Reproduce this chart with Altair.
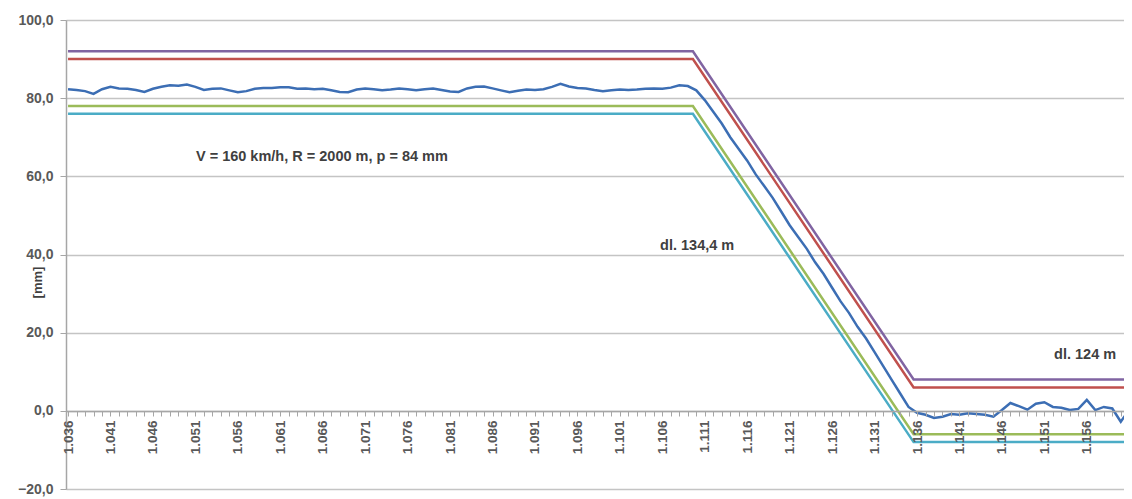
import altair as alt
import pandas as pd

# measured cant (blue), one value per chainage step
x_meas = list(range(1036, 1162))
measured = [
    82.3, 82.1, 81.8, 81.1, 82.3, 82.9, 82.5, 82.4, 82.1, 81.6,
    82.4, 82.9, 83.3, 83.2, 83.5, 82.9, 82.1, 82.4, 82.5, 82.0,
    81.5, 81.8, 82.4, 82.6, 82.6, 82.8, 82.8, 82.4, 82.5, 82.3,
    82.4, 82.0, 81.6, 81.5, 82.2, 82.5, 82.3, 82.0, 82.2, 82.5,
    82.3, 82.0, 82.3, 82.5, 82.1, 81.7, 81.6, 82.5, 82.9, 83.0,
    82.5, 82.0, 81.5, 81.9, 82.2, 82.1, 82.3, 82.9, 83.7, 83.0,
    82.6, 82.5, 82.1, 81.8, 82.0, 82.2, 82.1, 82.2, 82.4, 82.5,
    82.4, 82.7, 83.3, 83.1, 82.0, 79.5, 76.5, 73.5, 70.0, 67.0,
    64.0, 60.5, 57.5, 54.5, 51.0, 47.5, 44.5, 41.5, 38.0, 35.0,
    31.5, 28.0, 25.0, 21.5, 18.5, 15.0, 11.5, 8.0, 4.5, 1.0,
    -0.5, -1.0, -1.8, -1.5, -0.8, -1.0, -0.6, -0.8, -1.0, -1.5,
    0.2, 2.0, 1.2, 0.3, 1.8, 2.2, 1.0, 0.8, 0.2, 0.5,
    2.8, 0.2, 1.0, 0.6, -2.8, 0.3,
]

# reference / tolerance lines
ref_x = [1036, 1109.6, 1135.6, 1161]
ref_names = ["purple", "red", "green", "cyan"]
ref_purple = [92, 92, 8, 8]
ref_red = [90, 90, 6, 6]
ref_green = [78, 78, -6, -6]
ref_cyan = [76, 76, -8, -8]
ref_colors = ["#8064A2", "#C0504D", "#9BBB59", "#4BACC6"]
meas_color = "#3C6EB4"

# annotations
ann_text = ["V = 160 km/h, R = 2000 m, p = 84 mm", "dl. 134,4 m", "dl. 124 m"]
ann_x = [1065.9, 1110.1, 1155.8]
ann_y = [65.0, 42.2, 14.3]

y_ticks = [-20, 0, 20, 40, 60, 80, 100]
x_ticks = list(range(1036, 1161))

meas_df = pd.DataFrame({"x": x_meas, "y": measured})
rows = []
for name, vals in zip(ref_names, [ref_purple, ref_red, ref_green, ref_cyan]):
    for xv, yv in zip(ref_x, vals):
        rows.append({"x": xv, "y": yv, "s": name})
ref_df = pd.DataFrame(rows)
ann_df = pd.DataFrame({"x": ann_x, "y": ann_y, "t": ann_text})

FONT = "Liberation Sans"
x_scale = alt.Scale(domain=[1035.76, 1160.38], nice=False, zero=False)
y_scale = alt.Scale(domain=[-20, 100], nice=False)

x_axis = alt.Axis(
    values=x_ticks,
    tickCount=200,
    labelExpr="(datum.value - 1036) % 5 == 0 ? replace(format(datum.value, ','), ',', '.') : ''",
    labelAngle=270,
    offset=-78,
    grid=False,
    domainColor="#A6A6A6",
    domainWidth=1.5,
    tickColor="#A6A6A6",
    tickSize=5,
    labelFont=FONT,
    labelFontSize=13.5,
    labelFontWeight="bold",
    labelColor="#595959",
    labelPadding=4,
    labelOverlap=False,
    labelFlush=False,
    labelBound=False,
    title=None,
    zindex=1,
)
y_axis = alt.Axis(
    values=y_ticks,
    labelExpr="replace(format(datum.value, '.1f'), '.', ',')",
    grid=True,
    gridColor="#C4C4C4",
    gridWidth=1.5,
    domainColor="#A6A6A6",
    domainWidth=1.5,
    tickColor="#A6A6A6",
    tickSize=6,
    labelFont=FONT,
    labelFontSize=14,
    labelFontWeight="bold",
    labelColor="#595959",
    labelPadding=7,
    title="[mm]",
    titleFont=FONT,
    titleFontSize=13,
    titleFontWeight="bold",
    titleColor="#404040",
    titleX=-29,
    titleY=262,
    titleAngle=270,
    titleAlign="center",
    titleBaseline="middle",
)

refs = alt.Chart(ref_df).mark_line(strokeWidth=2.5, clip=True).encode(
    x=alt.X("x:Q", scale=x_scale, axis=x_axis),
    y=alt.Y("y:Q", scale=y_scale, axis=y_axis),
    color=alt.Color("s:N", scale=alt.Scale(domain=ref_names, range=ref_colors), legend=None),
    detail="s:N",
)
meas = alt.Chart(meas_df).mark_line(strokeWidth=2.5, color=meas_color, clip=True).encode(
    x=alt.X("x:Q", scale=x_scale),
    y=alt.Y("y:Q", scale=y_scale),
)
ann = alt.Chart(ann_df).mark_text(
    font=FONT, fontSize=14.5, fontWeight="bold", color="#404040"
).encode(
    x=alt.X("x:Q", scale=x_scale),
    y=alt.Y("y:Q", scale=y_scale),
    text="t:N",
)

chart = alt.layer(refs, meas, ann).properties(
    width=1058,
    height=469,
    autosize=alt.AutoSizeParams(type="none"),
    padding={"left": 58, "top": 12, "right": 0, "bottom": 8},
).configure_view(stroke=None).configure(background="white")

chart.save("out.html", embed_options={"renderer": "svg", "actions": False})
